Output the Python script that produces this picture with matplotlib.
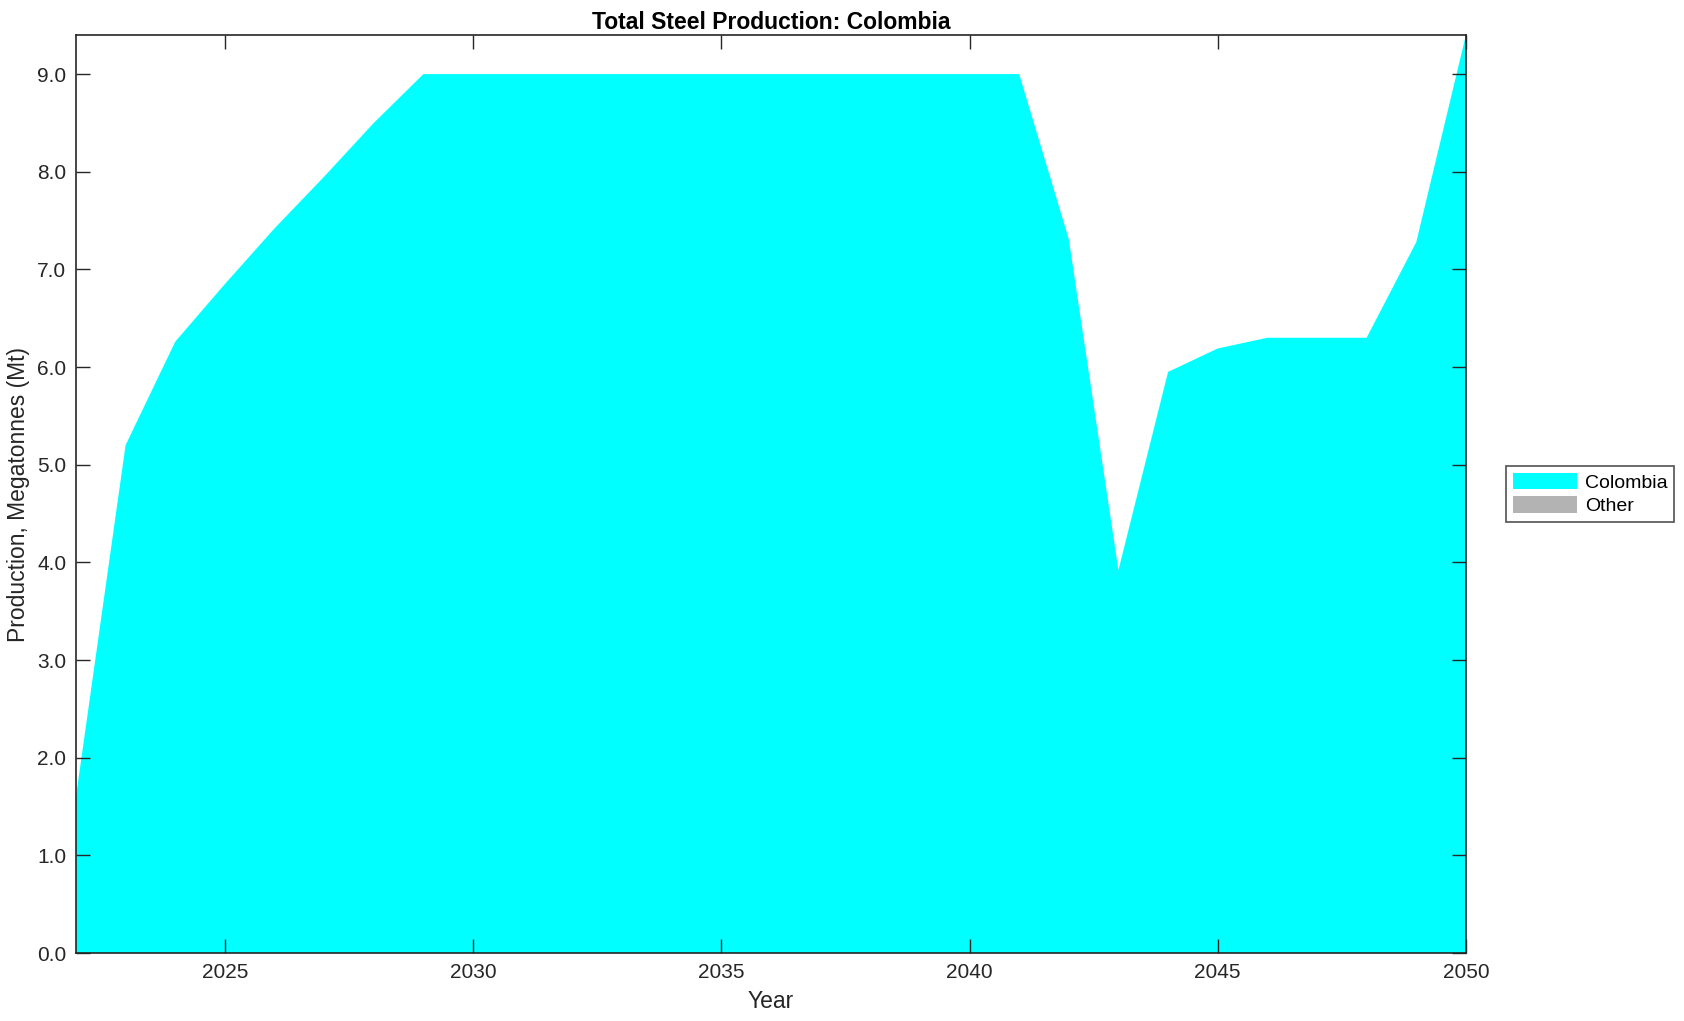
import numpy as np
import matplotlib.pyplot as plt

plt.rcParams['font.family'] = ['Liberation Sans', 'DejaVu Sans']

# dati
anni = list(range(2022, 2051))
colombia = [1.6, 5.2, 6.26, 6.85, 7.42, 7.95, 8.5, 9.0,
            9.0, 9.0, 9.0, 9.0, 9.0, 9.0, 9.0, 9.0, 9.0, 9.0, 9.0, 9.0,
            7.31, 3.92, 5.95, 6.19, 6.3, 6.3, 6.3, 7.28, 9.4]
altro = [0.0] * len(anni)
etichette = ['Colombia', 'Other']
colori = ['#00ffff', '#b3b3b3']

GRIGIO = '#262626'

fig = plt.figure(figsize=(16.84, 10.21), dpi=100)
ax = fig.add_axes([0.0451, 0.0666, 0.8254, 0.8991])

ax.stackplot(anni, colombia, altro, labels=etichette, colors=colori, linewidth=0)

ax.set_xlim(2022, 2050)
ax.set_ylim(0, 9.4)
ax.set_xticks([2025, 2030, 2035, 2040, 2045, 2050])
ax.set_yticks(np.arange(0, 9.5, 1.0))
ax.set_yticklabels(['{:.1f}'.format(v) for v in np.arange(0, 9.5, 1.0)])

ax.tick_params(direction='in', length=10, width=1, top=True, right=True,
               labelsize=15, colors=GRIGIO, pad=7)
for s in ax.spines.values():
    s.set_color(GRIGIO)
    s.set_linewidth(1.2)

ax.set_title('Total Steel Production: Colombia', fontsize=16.5, fontweight='bold', pad=4)
ax.set_xlabel('Year', fontsize=16.5, color=GRIGIO, labelpad=6)
ax.set_ylabel('Production, Megatonnes (Mt)', fontsize=16.5, color=GRIGIO, labelpad=5)

leg = ax.legend(loc='center left', bbox_to_anchor=(1.022, 0.5), fontsize=14,
                frameon=True, fancybox=False, edgecolor=GRIGIO, handlelength=3.3,
                handleheight=0.9, labelspacing=0.25, borderpad=0.35, handletextpad=0.4)
leg.get_frame().set_linewidth(1.2)

fig.savefig('out.png', dpi=100)
